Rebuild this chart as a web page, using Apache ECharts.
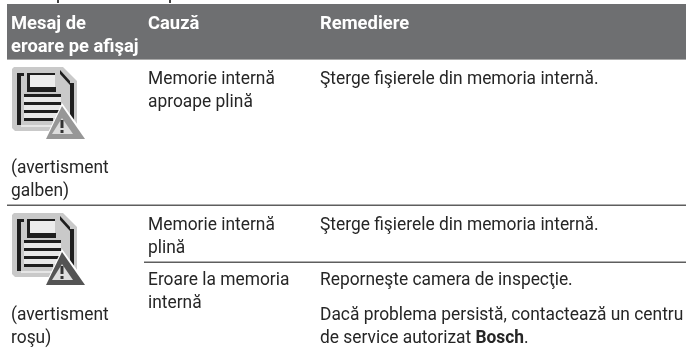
<!DOCTYPE html>
<html><head><meta charset="utf-8">
<style>html,body{margin:0;padding:0;background:#fff}#c{width:686px;height:350px}</style>
<script src="https://cdn.jsdelivr.net/npm/echarts@6/dist/echarts.min.js"></script>
</head><body><div id="c"></div>
<script>
const headerCol1 = ["Mesaj de", "eroare pe afişaj"];
const headerCol2 = ["Cauză"];
const headerCol3 = ["Remediere"];
const row1Cause = ["Memorie internă", "aproape plină"];
const row1Fix = ["Şterge fişierele din memoria internă."];
const row1Note = ["(avertisment", "galben)"];
const row2Cause = ["Memorie internă", "plină"];
const row2Fix = ["Şterge fişierele din memoria internă."];
const row3Cause = ["Eroare la memoria", "internă"];
const row3Fix = ["Reporneşte camera de inspecţie."];
const row3Fix2 = ["Dacă problema persistă, contactează un centru", "de service autorizat "];
const brand = "Bosch";
const row2Note = ["(avertisment", "roşu)"];

const FONT = "Roboto";
const SIZE = 17.5, LH = 23, BASE_OFF = 4, SX = 0.993;
const els = [];
function txt(lines, x, base, opt) {
  opt = opt || {};
  lines.forEach((s, i) => {
    els.push({type:'text', x:x, y:base - BASE_OFF + i*LH, scaleX:opt.bold?1.05:SX, silent:true, style:{
      text:s, x:0, y:0, font:(opt.bold?'700 ':'400 ')+SIZE+'px '+FONT,
      fill:opt.fill||'#262626', verticalAlign:'middle', align:'left'}});
  });
}
function rect(x,y,w,h,fill){els.push({type:'rect',silent:true,shape:{x,y,width:w,height:h},style:{fill}});}
function poly(pts,fill,dy){els.push({type:'polygon',silent:true,y:dy,shape:{points:pts},style:{fill}});}

rect(7,4,679,55,'#6e6f71');
rect(7,59,679,1,'#a9a9a9');
rect(57,0,2,3,'#444'); rect(169,0,2,3,'#444');
rect(7,204.5,679,1.5,'#5e5e5e');
rect(144,261.5,542,1.5,'#5e5e5e');

function icon(dy, tri){
  poly([[12,69],[14,67],[63,67],[77,81],[77,124],[60,131],[15,131],[12,128]],'#c9c9c9',dy);
  const r=(x,y,w,h,f)=>rect(x,y+dy,w,h,f);
  r(17,73,4,52,'#1e1e1e'); r(17,73,7,3,'#1e1e1e');
  r(21,125,46,2,'#e6e6e6');
  r(27,73,3,19,'#1e1e1e'); r(27,73,28,2,'#1e1e1e'); r(30,75,25,12,'#ececec');
  r(30,87,26,5,'#1e1e1e');
  r(70,83,4,40,'#1e1e1e');
  poly([[60,70],[70,81],[70,85],[60,74]],'#1e1e1e',dy);
  r(24,94,37,3,'#1e1e1e');r(24,97,37,5,'#e8e8e8');r(24,102,37,3,'#1e1e1e');r(24,105,37,5,'#e8e8e8');r(24,110,37,3,'#1e1e1e');r(24,113,33,5,'#e8e8e8');r(24,118,29,3,'#1e1e1e');
  poly([[62,103],[88,139],[45,139]],'#fff',dy);
  poly([[62,106],[85,139],[46,139]],tri,dy);
  poly([[62,118],[73,134],[52,134]],'#ddd',dy);
  r(60.5,120,3,8,'#333'); r(60.5,130,3,3,'#333');
}
icon(0,'#979797');
icon(146,'#545454');

txt(headerCol1,11,29,{bold:true,fill:'#fff'});
txt(headerCol2,148,29,{bold:true,fill:'#fff'});
txt(headerCol3,320,29,{bold:true,fill:'#fff'});
txt(row1Cause,148,84);
txt(row1Fix,320,84);
txt(row1Note,11,173);
txt(row2Cause,148,230);
txt(row2Fix,320,230);
txt(row3Cause,148,285);
txt(row3Fix,320,285);
txt(row2Note,11,320);
txt([row3Fix2[0]],320,320);
els.push({type:'text',x:320,y:343-BASE_OFF,scaleX:SX,silent:true,style:{
  text:'{r|'+row3Fix2[1]+'}{b|'+brand+'}{r|.}',x:0,y:0,verticalAlign:'middle',
  rich:{r:{font:'400 '+SIZE+'px '+FONT,fill:'#262626'},b:{font:'700 '+SIZE+'px '+FONT,fill:'#262626'}}}});

const chart = echarts.init(document.getElementById('c'),null,{renderer:'canvas'});
chart.setOption({animation:false,backgroundColor:'#fff',graphic:{elements:els}});
</script></body></html>
